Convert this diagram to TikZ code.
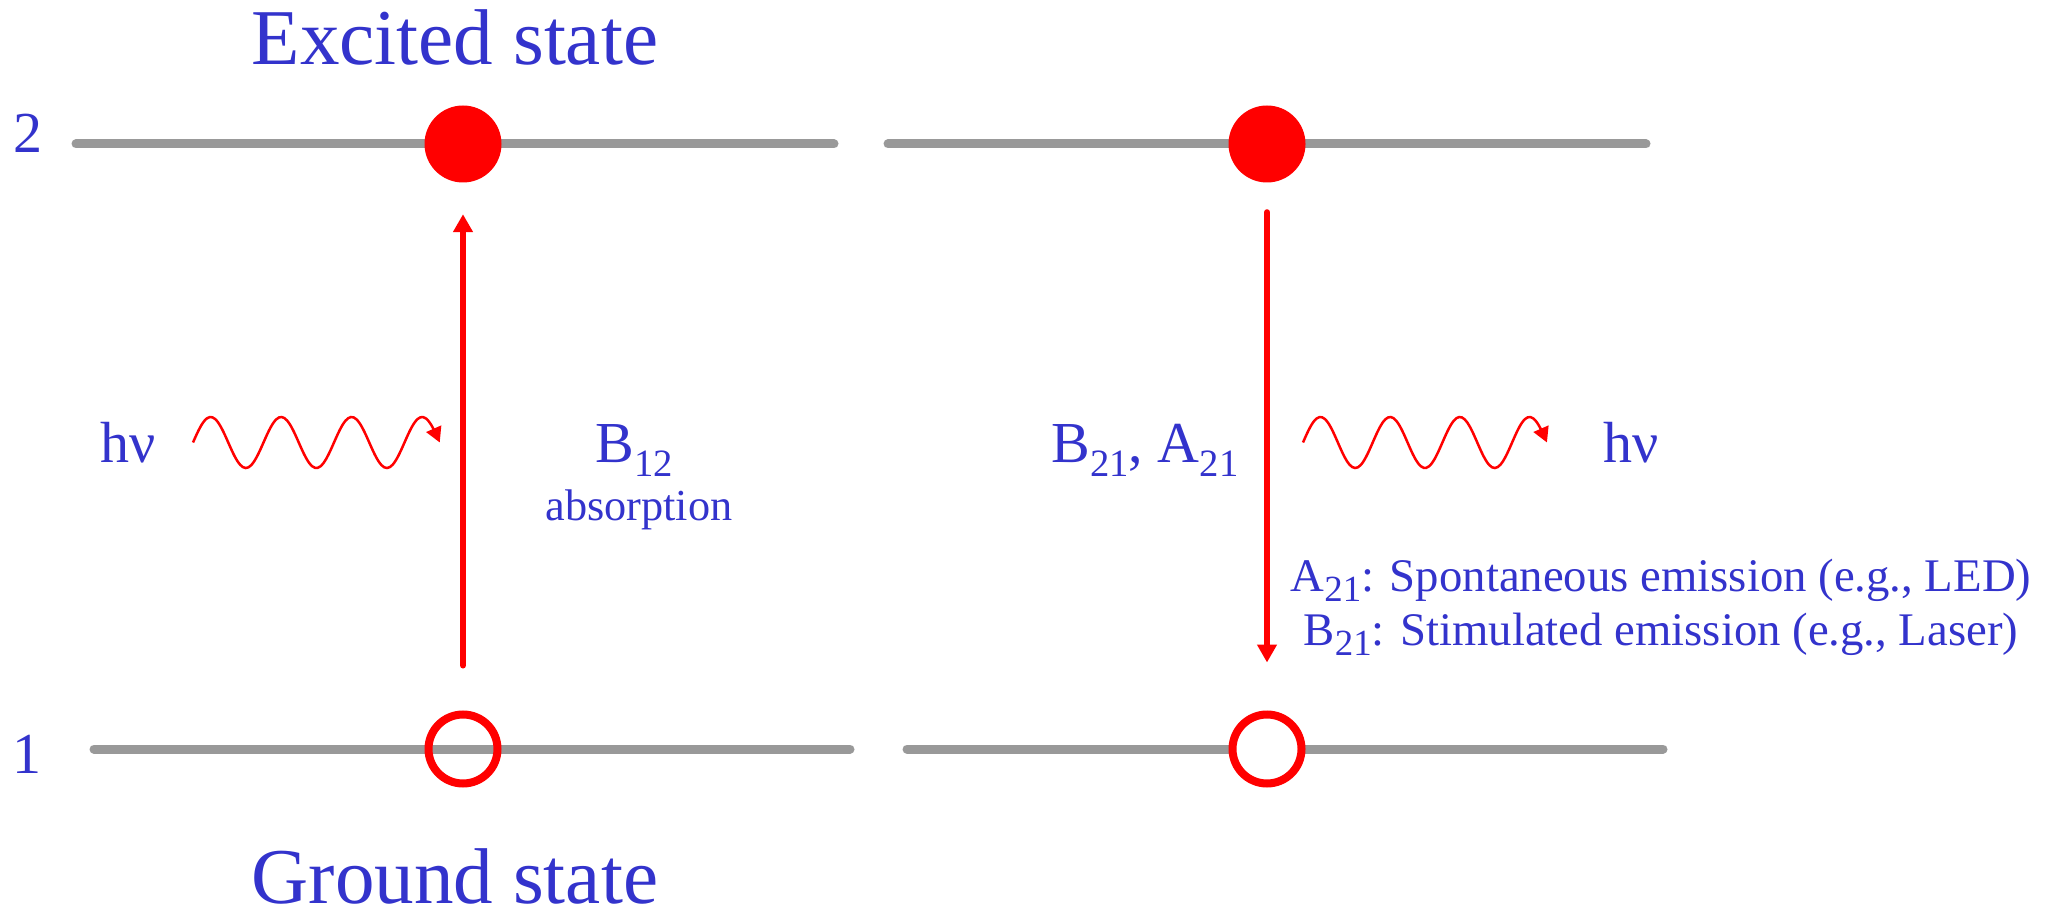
\documentclass[tikz,border=0pt]{standalone}
\usepackage{fontspec}
\setmainfont{Liberation Serif}
\usepackage{tikz}
\usetikzlibrary{positioning,arrows.meta}
\usepackage{xcolor}
\definecolor{lblue}{RGB}{51,51,204}
\definecolor{lgray}{RGB}{153,153,153}
\definecolor{lred}{RGB}{255,0,0}
\newcommand{\sbs}[1]{\raisebox{-3.7pt}{\fontsize{11}{11}\selectfont #1}}
\newcommand{\sbsm}[1]{\raisebox{-3.1pt}{\fontsize{10.5}{10.5}\selectfont #1}}

\begin{document}
\begin{tikzpicture}[x=0.1mm,y=-0.1mm,
  lvlline/.style={lgray,line width=0.9mm,line cap=round},
  lbl/.style={lblue,inner sep=0pt,anchor=base},
  titletext/.style={lbl,font=\fontsize{22.5}{27}\selectfont},
  medtext/.style={lbl,font=\fontsize{16.5}{20}\selectfont},
  smalltext/.style={lbl,font=\fontsize{13.3}{16}\selectfont},
  fullstate/.style={circle,fill=lred,minimum size=7.7mm,inner sep=0pt},
  emptystate/.style={circle,draw=lred,line width=0.8mm,minimum size=6.9mm,inner sep=0pt},
  trans/.style={-{Triangle[length=1.8mm,width=1.9mm]},lred,line width=0.6mm,line cap=round},
  photon/.style={-{Triangle[length=1.5mm,width=1.6mm]},lred,line width=0.25mm}]
\useasboundingbox (0,0) rectangle (2045,912);
\draw[lvlline] (76,144) -- (834,144);
\draw[lvlline] (888,144) -- (1646,144);
\draw[lvlline] (94,749) -- (850,749);
\draw[lvlline] (907,749) -- (1663,749);
\node[medtext] (n2) at (28,153) {2};
\node[medtext] (n1) at (27,773) {1};
\node[fullstate] (exc1) at (463,144) {};
\node[fullstate] (exc2) at (1267,144) {};
\node[emptystate] (gnd1) at (463,749) {};
\node[emptystate,fill=white] (gnd2) at (1267,749) {};
\node[titletext] (exctxt) at (455,65) {Excited state};
\node[titletext] (gndtxt) at (455,903) {Ground state};
\draw[trans,shorten <=4.5mm,shorten >=3.1mm] (gnd1) -- (exc1);
\draw[trans,shorten <=2.9mm,shorten >=4.8mm] (exc2) -- (gnd2);
\draw[photon] plot[domain=0:3.5,samples=90,smooth] ({193+70.5*\x},{442.5-25.5*sin(360*\x)});
\draw[photon] plot[domain=0:3.5,samples=90,smooth] ({1303+69.7*\x},{442.5-25.5*sin(360*\x)});
\node[medtext] (hv1) at (128,463) {hν};
\node[medtext] (hv2) at (1631,463) {hν};
\node[medtext] (b12) at (634,463) {B\sbs{12}};
\node[lbl,font=\fontsize{12.6}{15}\selectfont] (abs) at (639,520) {absorption};
\node[medtext] (b21) at (1145,463) {B\sbs{21}, A\sbs{21}};
\node[smalltext] (spon) at (1661,591) {A\sbsm{21}: Spontaneous emission (e.g., LED)};
\node[smalltext] (stim) at (1661,645) {B\sbsm{21}: Stimulated emission (e.g., Laser)};
\end{tikzpicture}
\end{document}
